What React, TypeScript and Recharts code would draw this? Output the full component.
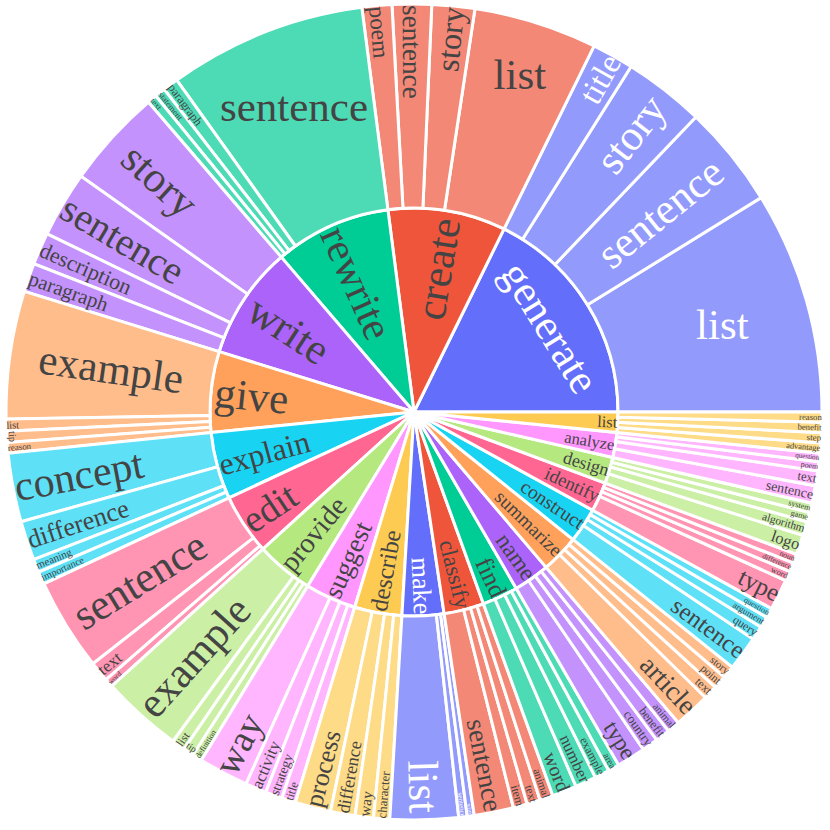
import React from 'react';
import { PieChart, Pie, Cell } from 'recharts';

// Inner ring: root verbs (counter-clockwise from 3 o'clock)
const verbs: string[] = [
  'generate', 'create', 'rewrite', 'write', 'give', 'explain', 'edit', 'provide', 'suggest', 'describe',
  'make', 'classify', 'find', 'name', 'summarize', 'construct', 'identify', 'design', 'analyze', 'list',
];

// Outer ring: direct noun objects of each verb
const nounLabels: string[][] = [
  ['list', 'sentence', 'story', 'title'],
  ['list', 'story', 'sentence', 'poem'],
  ['sentence', 'paragraph', 'statement', 'text'],
  ['story', 'sentence', 'description', 'paragraph'],
  ['example', 'list', 'tip', 'reason'],
  ['concept', 'difference', 'meaning', 'importance'],
  ['sentence', 'text', 'word'],
  ['example', 'list', 'tip', 'definition'],
  ['way', 'activity', 'strategy', 'title'],
  ['process', 'difference', 'way', 'character'],
  ['list', 'sentence', 'word'],
  ['sentence', 'item', 'text', 'animal'],
  ['word', 'number', 'example', 'area'],
  ['type', 'country', 'benefit', 'animal'],
  ['article', 'text', 'point', 'story'],
  ['sentence', 'query', 'argument', 'question'],
  ['type', 'word', 'difference', 'noun'],
  ['logo', 'algorithm', 'game', 'system'],
  ['sentence', 'text', 'poem', 'question'],
  ['advantage', 'step', 'benefit', 'reason'],
];

const nounCounts: number[][] = [
  [31.7, 14.6, 11.55, 5.95],
  [17.6, 6.1, 5.6, 4.25],
  [28.2, 2.2, 1.5, 1.35],
  [14.1, 9.4, 4.6, 4.1],
  [18.2, 1.7, 1.6, 1.5],
  [9.8, 5.6, 1.9, 1.8],
  [13.2, 2.9, 1.2],
  [11.6, 1.9, 1.5, 1.4],
  [7.1, 3.0, 2.4, 2.0],
  [5.1, 3.5, 2.6, 2.3],
  [9.7, 1.2, 1.0],
  [5.6, 2.0, 1.9, 1.9],
  [3.5, 3.0, 2.1, 1.6],
  [4.1, 2.3, 2.1, 1.8],
  [5.2, 2.0, 1.9, 1.8],
  [4.9, 2.0, 1.6, 1.4],
  [4.4, 1.4, 1.3, 1.3],
  [2.8, 2.0, 1.35, 1.35],
  [2.5, 2.1, 1.3, 1.2],
  [1.45, 1.45, 1.45, 1.45],
];

const palette: string[] = [
  '#636efa', '#EF553B', '#00cc96', '#ab63fa', '#FFA15A',
  '#19d3f3', '#FF6692', '#B6E880', '#FF97FF', '#FECB52',
];

const CX = 414;
const CY = 412;
const R_MID = 204;
const R_OUT = 408;
const MAXF = 43;
const TEXTPAD = 3;
const ASC = 0.891;
const DESC = 0.216;
const FONT = '"Liberation Serif", "Times New Roman", serif';

function lighten(hex: string, op: number): string {
  const h = hex.replace('#', '');
  const c = [0, 2, 4].map((i) => parseInt(h.slice(i, i + 2), 16));
  const m = c.map((v) => Math.round(op * v + (1 - op) * 255));
  return 'rgb(' + m.join(',') + ')';
}

function textColorFor(hex: string): string {
  const h = hex.replace('#', '');
  const [r, g, b] = [0, 2, 4].map((i) => parseInt(h.slice(i, i + 2), 16));
  const br = (299 * r + 587 * g + 114 * b) / 1000;
  return br >= 128 ? '#444' : '#fff';
}

type Item = { name: string; value: number; fill: string; text: string };

const verbData: Item[] = verbs.map((v, i) => {
  const base = palette[i % palette.length];
  return {
    name: v,
    value: nounCounts[i].reduce((s, x) => s + x, 0),
    fill: base,
    text: textColorFor(base),
  };
});

const nounData: Item[] = [];
verbs.forEach((v, i) => {
  const base = palette[i % palette.length];
  nounLabels[i].forEach((n, j) => {
    nounData.push({ name: n, value: nounCounts[i][j], fill: lighten(base, 0.7), text: textColorFor(base) });
  });
});

let ctx: CanvasRenderingContext2D | null = null;
function measure(s: string, f: number): number {
  if (!ctx) {
    const c = document.createElement('canvas');
    ctx = c.getContext('2d');
  }
  if (!ctx) return s.length * f * 0.45;
  ctx.font = `${f}px "Liberation Serif"`;
  return ctx.measureText(s).width;
}

function fitText(text: string, r0: number, r1: number, midDeg: number, spanDeg: number) {
  const w = measure(text, MAXF);
  const h = MAXF * (ASC + DESC);
  const ring = 1 - r0 / r1;
  const half = 0.5 * Math.min((spanDeg * Math.PI) / 180, Math.PI);
  const rIns = Math.max(0, Math.min(1 / (1 + 1 / Math.sin(half)), ring / 2));
  const diag = Math.sqrt(w * w + h * h);
  const hScale = (rIns * r1 * 2) / diag;
  const horiz = { scale: hScale, rC: 1 - rIns, rot: 0 };
  if (hScale >= 1) return { ...horiz, scale: 1 };
  const r = Math.max(0, r1 - 2 * TEXTPAD);
  const maxHalf = (a: number) => {
    const q = a + 1 / (2 * Math.tan(half));
    return r * Math.min(1 / (Math.sqrt(q * q + 0.5) + q), ring / (Math.sqrt(a * a + ring / 2) + a));
  };
  const rotf = (t: number) => ((t + 720) % 180) - 90;
  const aR = w / h;
  const sR = maxHalf(aR);
  const rad = { scale: (sR * 2) / h, rC: Math.cos(sR / r) - (aR * sR) / r, rot: rotf(90 - midDeg) };
  const aT = h / w;
  const sT = maxHalf(aT);
  const tan = { scale: (sT * 2) / w, rC: Math.cos(sT / r) - (aT * sT) / r, rot: rotf(180 - midDeg) };
  let best = horiz;
  for (const c of [rad, tan]) if (c.scale > best.scale) best = c;
  return { ...best, scale: Math.min(1, best.scale) };
}

const makeLabel = (r0: number, r1: number, items: Item[]) => (props: any) => {
  const { midAngle, percent, index } = props;
  const item = items[index];
  if (!item) return null;
  let span = percent * 360;
  if (typeof props.startAngle === 'number' && typeof props.endAngle === 'number') {
    span = Math.abs(props.endAngle - props.startAngle);
  }
  const t = fitText(item.name, r0, r1, midAngle, span);
  const fs = MAXF * t.scale;
  const R = r1 * t.rC;
  const a = (midAngle * Math.PI) / 180;
  const cx = typeof props.cx === 'number' ? props.cx : CX;
  const cy = typeof props.cy === 'number' ? props.cy : CY;
  const x = cx + R * Math.cos(a);
  const y = cy - R * Math.sin(a);
  return (
    <text
      key={`lbl-${r0}-${index}`}
      transform={`translate(${x.toFixed(2)},${y.toFixed(2)}) rotate(${t.rot.toFixed(2)})`}
      x={0}
      y={(fs * (ASC - DESC)) / 2}
      textAnchor="middle"
      fontFamily={FONT}
      fontSize={fs}
      fill={item.text}
    >
      {item.name}
    </text>
  );
};

export default function App() {
  return (
    <div style={{ position: 'absolute', left: 0, top: 0, width: 830, height: 830, background: '#fff' }}>
      <PieChart width={830} height={830} margin={{ top: 0, right: 0, bottom: 0, left: 0 }}>
        <Pie
          data={verbData}
          dataKey="value"
          nameKey="name"
          cx={CX}
          cy={CY}
          innerRadius={0}
          outerRadius={R_MID}
          startAngle={0}
          endAngle={360}
          stroke="#ffffff"
          strokeWidth={3}
          isAnimationActive={false}
          labelLine={false}
          label={makeLabel(0, R_MID, verbData)}
        >
          {verbData.map((d, i) => (
            <Cell key={`v-${i}`} fill={d.fill} stroke="#ffffff" strokeWidth={3} />
          ))}
        </Pie>
        <Pie
          data={nounData}
          dataKey="value"
          nameKey="name"
          cx={CX}
          cy={CY}
          innerRadius={R_MID}
          outerRadius={R_OUT}
          startAngle={0}
          endAngle={360}
          stroke="#ffffff"
          strokeWidth={3}
          isAnimationActive={false}
          labelLine={false}
          label={makeLabel(R_MID, R_OUT, nounData)}
        >
          {nounData.map((d, i) => (
            <Cell key={`n-${i}`} fill={d.fill} stroke="#ffffff" strokeWidth={3} />
          ))}
        </Pie>
      </PieChart>
    </div>
  );
}
